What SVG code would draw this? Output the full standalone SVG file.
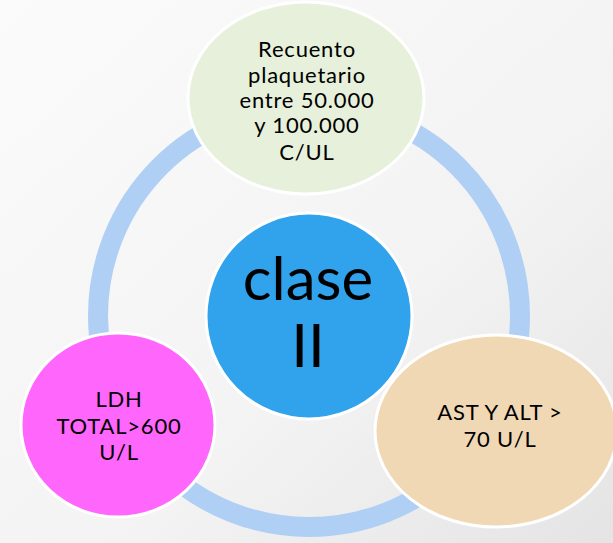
<svg xmlns="http://www.w3.org/2000/svg" width="613" height="543" viewBox="0 0 613 543">
<defs>
<linearGradient id="bg" x1="0" y1="0" x2="1" y2="1">
<stop offset="0" stop-color="#fbfbfb"/>
<stop offset="0.6" stop-color="#f3f3f3"/>
<stop offset="1" stop-color="#e4e4e4"/>
</linearGradient>
</defs>
<style>
.node{stroke:#ffffff;stroke-width:3}
.t{font-family:Lato,"DejaVu Sans",sans-serif;fill:#000;text-anchor:middle}
.s{font-size:22px;letter-spacing:0.8px}
.big{font-size:60px}
</style>
<rect width="613" height="543" fill="url(#bg)"/>
<g id="connectors">
<circle cx="309" cy="316" r="211" fill="none" stroke="#afcff5" stroke-width="20"/>
</g>
<g id="node-top">
<ellipse class="node" cx="306" cy="98" rx="118" ry="96" fill="#e6f0da"/>
<text class="t s" x="307" y="57">Recuento</text>
<text class="t s" x="307" y="83">plaquetario</text>
<text class="t s" x="307" y="108">entre 50.000</text>
<text class="t s" x="307" y="133">y 100.000</text>
<text class="t s" x="307" y="160">C/UL</text>
</g>
<g id="node-center">
<circle class="node" cx="309" cy="316" r="103" fill="#30a3ec"/>
<text class="t big" x="308" y="300">clase</text>
<text class="t big" x="308" y="367">II</text>
</g>
<g id="node-left">
<ellipse class="node" cx="118" cy="425" rx="97" ry="92" fill="#ff66fc"/>
<text class="t s" x="119" y="407">LDH</text>
<text class="t s" x="119" y="434">TOTAL&gt;600</text>
<text class="t s" x="119" y="460">U/L</text>
</g>
<g id="node-right">
<ellipse class="node" cx="496" cy="431" rx="121" ry="96" fill="#f0d8b5"/>
<text class="t s" x="500" y="420">AST Y ALT &gt;</text>
<text class="t s" x="500" y="447">70 U/L</text>
</g>
</svg>
